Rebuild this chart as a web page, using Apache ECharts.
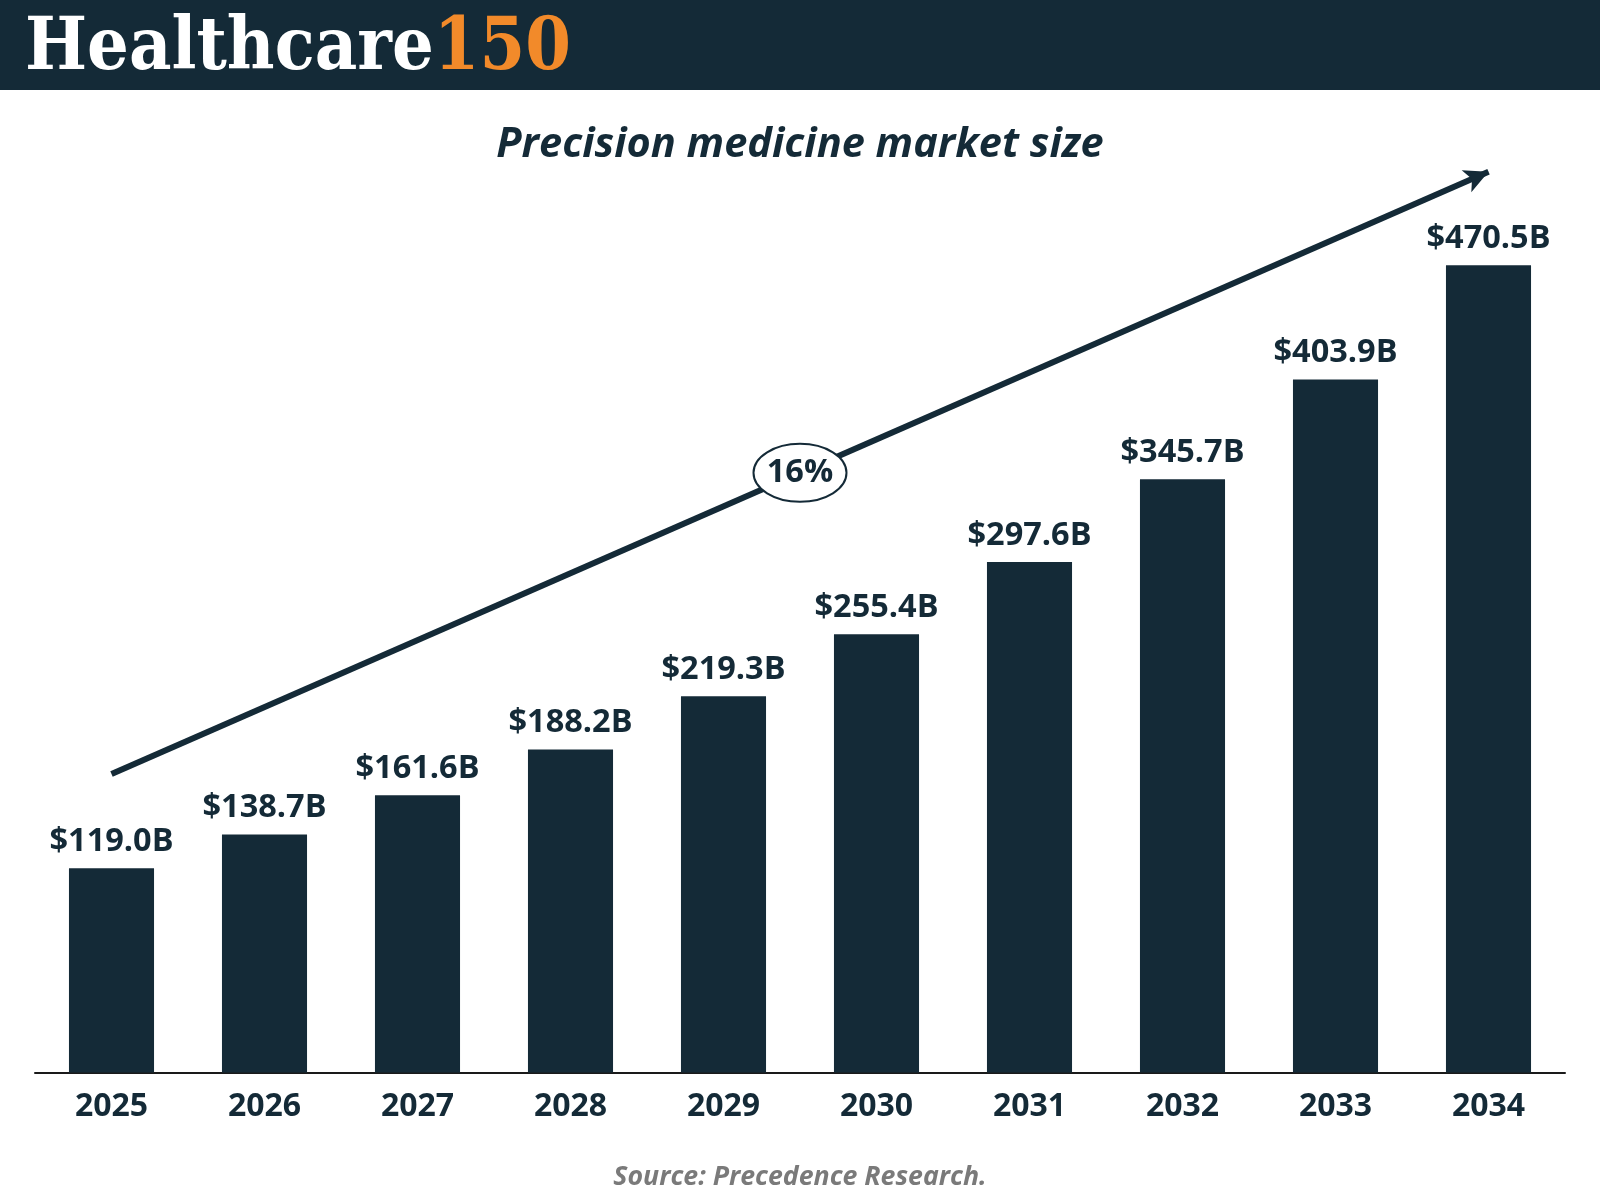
<!DOCTYPE html>
<html>
<head>
<meta charset="utf-8">
<script src="https://cdn.jsdelivr.net/npm/echarts@6/dist/echarts.min.js"></script>
<style>
html,body{margin:0;padding:0;background:#fff;}
#chart{width:1600px;height:1200px;}
</style>
</head>
<body>
<div id="chart"></div>
<script>
const years = ['2025','2026','2027','2028','2029','2030','2031','2032','2033','2034'];
const marketSize = [119.0,138.7,161.6,188.2,219.3,255.4,297.6,345.7,403.9,470.5];
const trendStartValue = 174;
const trendEndValue = 525;
const cagrLabel = '16%';
const titleText = 'Precision medicine market size';
const sourceText = 'Source: Precedence Research.';
const brandMain = 'Healthcare';
const brandNum = '150';

const DARK = '#142a37';
const chart = echarts.init(document.getElementById('chart'), null, {renderer:'canvas'});

const option = {
  backgroundColor: '#ffffff',
  animation: false,
  title: {
    text: titleText,
    left: 'center',
    top: 120,
    textStyle: {fontFamily:'Open Sans', fontWeight:'bold', fontStyle:'italic', fontSize:41.5, color:DARK}
  },
  grid: {left: 35, right: 35, top: 146, bottom: 127.5},
  xAxis: {
    type: 'category',
    data: years,
    axisLine: {lineStyle: {color:'#1a1a1a', width:2}},
    axisTick: {show:false},
    axisLabel: {fontFamily:'Open Sans', fontWeight:'bold', fontSize:32, color:DARK, margin:18}
  },
  yAxis: {
    type: 'value', min: 0, max: 540, show: false, splitLine: {show:false}
  },
  series: [{
    type: 'bar',
    data: marketSize,
    barWidth: '55.6%',
    itemStyle: {color: DARK},
    label: {
      show: true, position: 'top', distance: 10,
      fontFamily:'Open Sans', fontWeight:'bold', fontSize:32.5, color:DARK,
      formatter: p => '$' + p.value.toFixed(1) + 'B'
    },
    markLine: {
      silent: true,
      symbol: ['none','arrow'],
      symbolSize: [18, 24],
      lineStyle: {color: DARK, width: 6, type:'solid'},
      label: {show:false},
      data: [[{coord:[0, trendStartValue]}, {coord:[years.length-1, trendEndValue]}]]
    }
  }]
};
chart.setOption(option);

const p0 = chart.convertToPixel({seriesIndex:0}, [0, trendStartValue]);
const p1 = chart.convertToPixel({seriesIndex:0}, [years.length-1, trendEndValue]);
const mx = (p0[0]+p1[0])/2, my = (p0[1]+p1[1])/2;

chart.setOption({
  graphic: [
    {type:'rect', left:0, top:0, shape:{width:1600, height:90}, style:{fill:DARK}, z:10},
    {type:'text', x:25, y:14, scaleX:0.913, z:11, style:{
      text: '{a|' + brandMain + '}{b|' + brandNum + '}',
      rich: {
        a: {fontFamily:'DejaVu Serif', fontWeight:'bold', fontSize:72, fill:'#ffffff', color:'#ffffff'},
        b: {fontFamily:'DejaVu Serif', fontWeight:'bold', fontSize:72, fill:'#f28a2a', color:'#f28a2a'}
      }
    }},
    {type:'ellipse', z:20, shape:{cx:mx, cy:my, rx:46.5, ry:29},
      style:{fill:'#ffffff', stroke:DARK, lineWidth:2}},
    {type:'text', z:21, x:mx, y:my, style:{
      text: cagrLabel, align:'center', verticalAlign:'middle',
      fontFamily:'Open Sans', fontWeight:'bold', fontSize:32.5, fill:DARK
    }},
    {type:'text', z:21, x:800, y:1177, style:{
      text: sourceText, align:'center', verticalAlign:'middle',
      fontFamily:'Open Sans', fontWeight:'bold', fontStyle:'italic', fontSize:26.7, fill:'#7a7a7a'
    }}
  ]
});
</script>
</body>
</html>
